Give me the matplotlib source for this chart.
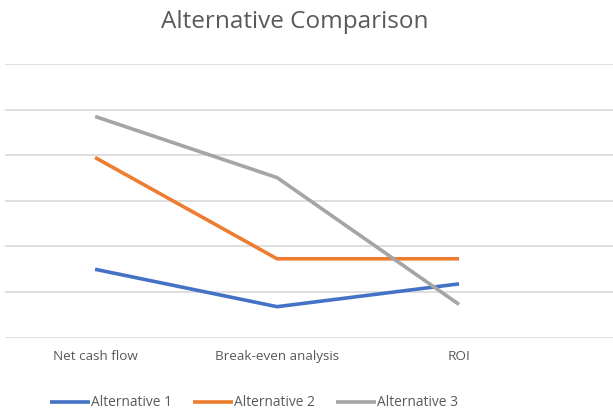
import matplotlib.pyplot as plt

categories = ["Net cash flow", "Break-even analysis", "ROI"]
alt1 = [1.5, 0.68, 1.18]
alt2 = [3.95, 1.73, 1.73]
alt3 = [4.85, 3.51, 0.73]
series_names = ["Alternative 1", "Alternative 2", "Alternative 3"]
colors = ["#4472C4", "#ED7D31", "#A5A5A5"]

plt.rcParams['font.family'] = ['Open Sans', 'DejaVu Sans']

fig = plt.figure(figsize=(6.13, 4.13), dpi=100)
W, H = 613, 413
ax = fig.add_axes([5 / W, (H - 337.7) / H, (W - 5) / W, (337.7 - 64) / H])

x = range(len(categories))
handles = []
for vals, name, c in zip([alt1, alt2, alt3], series_names, colors):
    h, = ax.plot(x, vals, color=c, lw=2.6, label=name, solid_capstyle='butt',
                 solid_joinstyle='miter')
    handles.append(h)

ax.set_ylim(0, 6)
ax.set_xlim(-0.495, 2.846)
ax.set_yticks(range(7))
ax.set_yticklabels([])
ax.tick_params(axis='y', length=0)
ax.grid(axis='y', color='#d9d9d9', lw=1.2)
ax.set_axisbelow(True)
for s in ax.spines.values():
    s.set_visible(False)
ax.set_xticks(list(x))
ax.set_xticklabels(categories, fontsize=9.7, color='#595959')
ax.tick_params(axis='x', length=0, pad=9)

fig.text(295 / W, 1 - 22 / H, "Alternative Comparison", ha='center', va='center',
         fontsize=17.5, color='#595959')

fig.legend(handles=handles, loc='center', bbox_to_anchor=(254 / W, 1 - 403 / H),
           ncol=3, frameon=False, fontsize=9.9, handlelength=2.9, handletextpad=0.1,
           columnspacing=1.5, labelcolor='#595959')

fig.savefig("out.png", dpi=100)
